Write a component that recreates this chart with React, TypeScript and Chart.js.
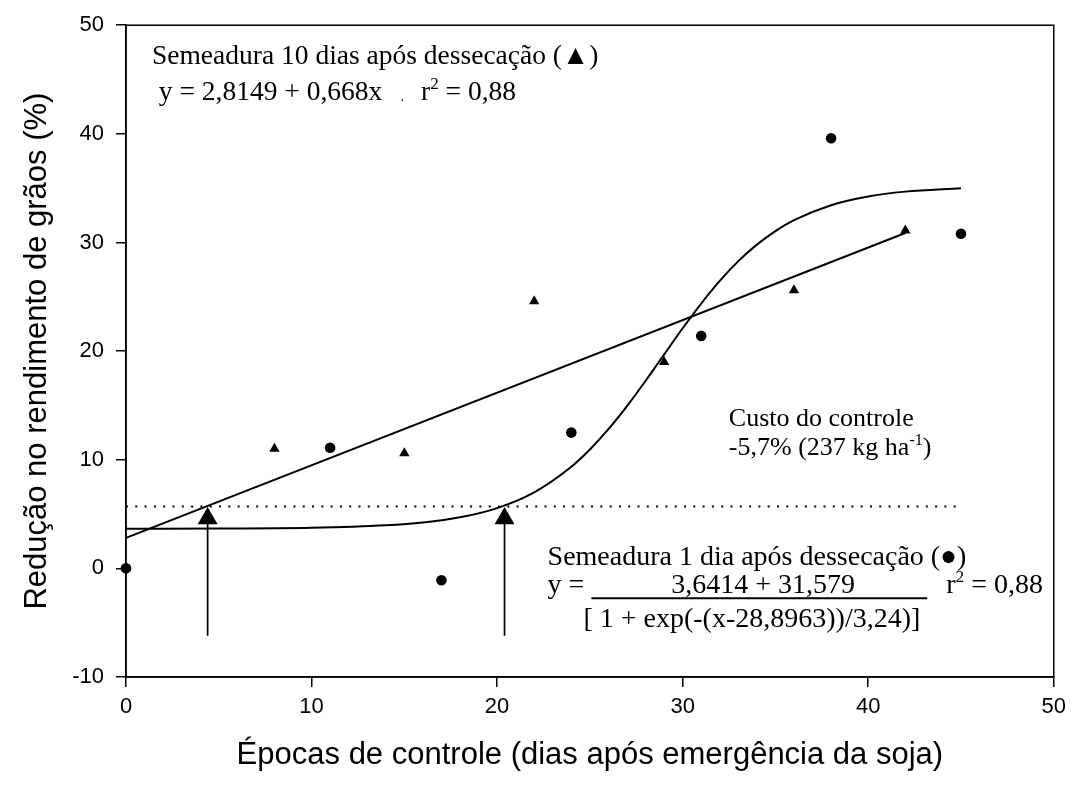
import React, { useEffect, useRef } from 'react';
import { Chart, registerables } from 'chart.js';

Chart.register(...registerables);

// ---- data ----
const xTicks = [0, 10, 20, 30, 40, 50];
const yTicks = [-10, 0, 10, 20, 30, 40, 50];

// Semeadura 10 dias após dessecação (triangles)
const triX = [0, 8, 15, 22, 29, 36, 42];
const triY = [0, 11.0, 10.6, 24.6, 19.0, 25.6, 31.1];

// Semeadura 1 dia após dessecação (circles)
const dotX = [0, 11, 17, 24, 31, 38, 45];
const dotY = [0, 11.1, -1.1, 12.5, 21.4, 39.6, 30.8];

// linear fit (read at its ends)
const linX = [0, 42];
const linY = [2.81, 30.87];

// sigmoid fit
const curveX = [0, 5, 10, 14, 16, 18, 20, 22, 24, 25, 26, 27, 28, 29, 30, 31, 32, 33, 34, 35, 36, 38, 40, 42, 45];
const curveY = [3.65, 3.66, 3.73, 3.96, 4.22, 4.7, 5.55, 7.0, 9.35, 10.94, 12.81, 14.93, 17.26, 19.68, 22.1, 24.38, 26.46, 28.28, 29.8, 31.05, 32.05, 33.43, 34.23, 34.68, 35.0];

// control cost threshold (dotted)
const costX = [0, 45];
const costY = [5.7, 5.7];

// arrows
const arrowX = [4.4, 20.4];
const arrowBottom = -6.2;
const arrowHead = 4.6;

const SERIF = "'Liberation Serif', 'Times New Roman', serif";
const SANS = "'Liberation Sans', Arial, sans-serif";

type Run = { t: string; sup?: boolean; size?: number };
type Note = { x: number; y: number; size: number; align?: CanvasTextAlign; runs: Run[] };

const TOP = 27.5;
const BOT = 28;
const MID = 26;
const notes: Note[] = [
  { x: 1.4, y: 46.46, size: TOP, runs: [{ t: 'Semeadura 10 dias após dessecação (▲)' }] },
  { x: 1.77, y: 43.13, size: TOP, runs: [{ t: 'y = 2,8149 + 0,668x' }] },
  { x: 14.8, y: 43.0, size: TOP, runs: [{ t: '.', size: 14 }] },
  { x: 15.9, y: 43.13, size: TOP, runs: [{ t: 'r' }, { t: '2', sup: true }, { t: ' = 0,88' }] },
  { x: 32.49, y: 13.12, size: MID, runs: [{ t: 'Custo do controle' }] },
  { x: 32.49, y: 10.42, size: MID, runs: [{ t: '-5,7% (237 kg ha' }, { t: '-1', sup: true }, { t: ')' }] },
  { x: 22.72, y: 0.3, size: BOT, runs: [{ t: 'Semeadura 1 dia após dessecação (●)' }] },
  { x: 22.72, y: -2.3, size: BOT, runs: [{ t: 'y =' }] },
  { x: 34.34, y: -2.3, size: BOT, align: 'center', runs: [{ t: '3,6414 + 31,579' }] },
  { x: 33.73, y: -5.37, size: BOT, align: 'center', runs: [{ t: '[ 1 + exp(-(x-28,8963))/3,24)]' }] },
  { x: 44.2, y: -2.3, size: BOT, runs: [{ t: 'r' }, { t: '2', sup: true }, { t: ' = 0,88' }] },
];
const fraction = { x0: 25.08, x1: 43.18, y: -2.76 };

const annotationPlugin = {
  id: 'annotationPlugin',
  afterDatasetsDraw(chart: any) {
    const { ctx, chartArea, scales } = chart;
    const xs = scales.x;
    const ys = scales.y;
    ctx.save();
    // frame
    ctx.strokeStyle = '#000';
    ctx.lineWidth = 1.5;
    ctx.strokeRect(chartArea.left, chartArea.top, chartArea.right - chartArea.left, chartArea.bottom - chartArea.top);
    ctx.fillStyle = '#000';
    ctx.textBaseline = 'alphabetic';
    for (const n of notes) {
      const px = xs.getPixelForValue(n.x);
      const py = ys.getPixelForValue(n.y);
      const sz = (r: Run) => (r.sup ? n.size * 0.62 : r.size ?? n.size);
      let total = 0;
      for (const r of n.runs) {
        ctx.font = `${sz(r)}px ${SERIF}`;
        total += ctx.measureText(r.t).width;
      }
      let cx = n.align === 'center' ? px - total / 2 : px;
      ctx.textAlign = 'left';
      for (const r of n.runs) {
        ctx.font = `${sz(r)}px ${SERIF}`;
        const dy = r.sup ? -n.size * 0.4 : 0;
        ctx.fillText(r.t, cx, py + dy);
        cx += ctx.measureText(r.t).width;
      }
    }
    // fraction bar
    ctx.beginPath();
    ctx.lineWidth = 2;
    const fy = ys.getPixelForValue(fraction.y);
    ctx.moveTo(xs.getPixelForValue(fraction.x0), fy);
    ctx.lineTo(xs.getPixelForValue(fraction.x1), fy);
    ctx.stroke();
    ctx.restore();
  },
};

const pts = (xa: number[], ya: number[]) => xa.map((x, i) => ({ x, y: ya[i] }));

export default function App() {
  const ref = useRef<HTMLCanvasElement | null>(null);
  useEffect(() => {
    document.body.style.margin = '0';
    const canvas = ref.current!;
    const lineBase = {
      showLine: true,
      pointRadius: 0,
      borderColor: '#000',
      backgroundColor: '#000',
      fill: false,
      clip: false as any,
    };
    const chart = new Chart(canvas, {
      type: 'scatter',
      data: {
        datasets: [
          { ...lineBase, data: pts(curveX, curveY), borderWidth: 2, cubicInterpolationMode: 'monotone' } as any,
          { ...lineBase, data: pts(linX, linY), borderWidth: 2 } as any,
          { ...lineBase, data: pts(costX, costY), borderWidth: 2, borderDash: [2, 7.3] } as any,
          ...arrowX.map((ax) => ({ ...lineBase, data: [{ x: ax, y: arrowBottom }, { x: ax, y: arrowHead }], borderWidth: 1.7 } as any)),
          {
            data: arrowX.map((ax) => ({ x: ax, y: arrowHead })),
            pointStyle: 'triangle',
            pointRadius: 11.5,
            pointBorderWidth: 0,
            backgroundColor: '#000',
            borderColor: '#000',
            clip: false,
          } as any,
          {
            data: pts(triX, triY),
            pointStyle: 'triangle',
            pointRadius: 6,
            pointBorderWidth: 0,
            backgroundColor: '#000',
            borderColor: '#000',
            clip: false,
          } as any,
          {
            data: pts(dotX, dotY),
            pointStyle: 'circle',
            pointRadius: 5.3,
            pointBorderWidth: 0,
            backgroundColor: '#000',
            borderColor: '#000',
            clip: false,
          } as any,
        ],
      },
      options: {
        animation: false,
        responsive: false,
        devicePixelRatio: 1,
        events: [],
        layout: { padding: { top: 25, right: 16, left: 0, bottom: 0 } },
        plugins: { legend: { display: false }, tooltip: { enabled: false } },
        scales: {
          x: {
            type: 'linear',
            min: 0,
            max: 50,
            afterBuildTicks: (s: any) => {
              s.ticks = xTicks.map((v) => ({ value: v }));
            },
            afterFit: (s: any) => {
              s.height = 108;
            },
            grid: { display: true, drawOnChartArea: false, drawTicks: true, tickLength: 10, color: '#000', lineWidth: 1.5 },
            border: { display: true, color: '#000', width: 1.5 },
            ticks: { color: '#000', font: { family: SANS, size: 22 }, padding: 7, maxRotation: 0 },
            title: {
              display: true,
              text: 'Épocas de controle (dias após emergência da soja)',
              color: '#000',
              font: { family: SANS, size: 31 },
              padding: { top: 0, bottom: 11 },
            },
          },
          y: {
            type: 'linear',
            min: -10,
            max: 50,
            afterBuildTicks: (s: any) => {
              s.ticks = yTicks.map((v) => ({ value: v }));
            },
            afterFit: (s: any) => {
              s.width = 126;
            },
            grid: { display: true, drawOnChartArea: false, drawTicks: true, tickLength: 10, color: '#000', lineWidth: 1.5 },
            border: { display: true, color: '#000', width: 1.5 },
            ticks: { color: '#000', font: { family: SANS, size: 22 }, padding: 12 },
            title: {
              display: true,
              text: 'Redução no rendimento de grãos (%)',
              color: '#000',
              font: { family: SANS, size: 31 },
              padding: { top: 19, bottom: 0 },
            },
          },
        },
      } as any,
      plugins: [annotationPlugin],
    });
    return () => chart.destroy();
  }, []);
  return (
    <div style={{ width: 1073, height: 785, background: '#fff' }}>
      <canvas ref={ref} width={1073} height={785} style={{ display: 'block' }} />
    </div>
  );
}
